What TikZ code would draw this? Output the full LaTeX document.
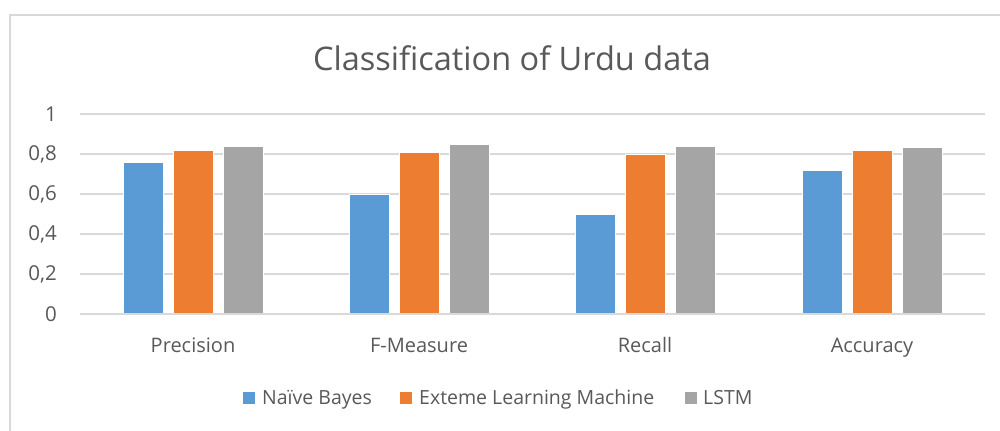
\documentclass[tikz,border=0pt]{standalone}
\usepackage{fontspec}
\setmainfont{Open Sans}
\definecolor{nb}{HTML}{5B9BD5}
\definecolor{elm}{HTML}{ED7D31}
\definecolor{lstm}{HTML}{A5A5A5}
\definecolor{txt}{HTML}{595959}
\definecolor{grid}{HTML}{D9D9D9}
\begin{document}
\begin{tikzpicture}[x=1bp,y=-1bp,
  gridline/.style={grid,line width=2bp},
  tick/.style={text=txt,font=\fontsize{20.5bp}{24bp}\selectfont,anchor=east,inner sep=0},
  cat/.style={text=txt,font=\fontsize{20bp}{24bp}\selectfont,inner sep=0},
  leg/.style={text=txt,font=\fontsize{19.5bp}{23bp}\selectfont,anchor=west,inner sep=0},
  bar/.style={draw=white,line width=0.6bp},
  key/.style={minimum width=12bp,minimum height=12bp,inner sep=0,anchor=west}]
\useasboundingbox (0,0) rectangle (1000,430);
\fill[white] (0,0) rectangle (1000,430);
% frame
\draw[grid,line width=1.5bp] (10,432) -- (10,15) -- (1002,15);
% gridlines and ticks
\foreach \v/\l [count=\i] in {0/0,0.2/{0,2},0.4/{0,4},0.6/{0,6},0.8/{0,8},1/1}{
  \draw[gridline] (80,314-200*\v) -- (985,314-200*\v);
  \node[tick] (t\i) at (57,314-200*\v) {\l};
}
% bars
\foreach \c/\a/\b/\d [count=\k] in {193/0.76/0.82/0.84, 419/0.60/0.81/0.85, 645/0.50/0.80/0.84, 872/0.72/0.82/0.835}{
  \fill[nb,bar] (\c-70,314) rectangle (\c-30,314-200*\a);
  \fill[elm,bar] (\c-20,314) rectangle (\c+20,314-200*\b);
  \fill[lstm,bar] (\c+30,314) rectangle (\c+70,314-200*\d);
}
\draw[gridline] (80,314) -- (985,314);
% category labels
\node[cat,anchor=base] (c1) at (193,352) {Precision};
\node[cat,anchor=base] (c2) at (419,352) {F-Measure};
\node[cat,anchor=base] (c3) at (645,352) {Recall};
\node[cat,anchor=base] (c4) at (872,352) {Accuracy};
% title
\node[text=txt,font=\fontsize{32.5bp}{38bp}\selectfont,inner sep=0,anchor=base] (title) at (512,70) {Classification of Urdu data};
% legend
\node[key,fill=nb] (k1) at (243,398) {};
\node[leg,anchor=base west] (l1) at (262,404) {Naïve Bayes};
\node[key,fill=elm] (k2) at (400,398) {};
\node[leg,anchor=base west] (l2) at (419,404) {Exteme Learning Machine};
\node[key,fill=lstm] (k3) at (685,398) {};
\node[leg,anchor=base west] (l3) at (703,404) {LSTM};
\end{tikzpicture}
\end{document}
